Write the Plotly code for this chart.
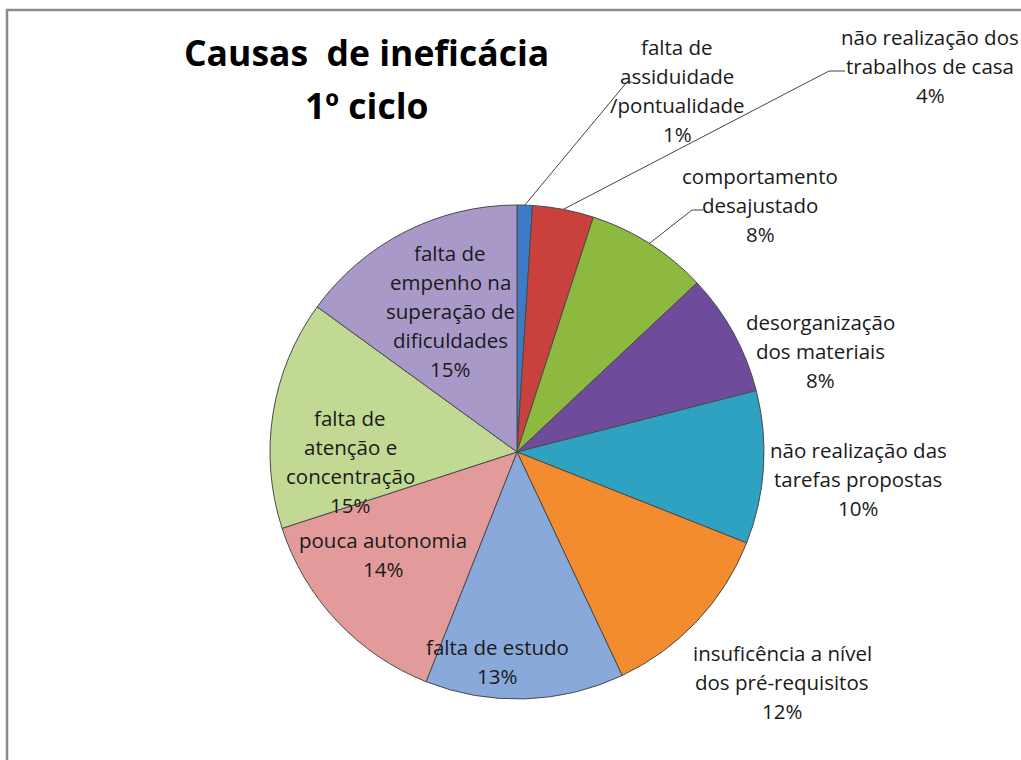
import plotly.graph_objects as go
import math

# ---- data ----
categories = [
    "falta de assiduidade /pontualidade",
    "não realização dos trabalhos de casa",
    "comportamento desajustado",
    "desorganização dos materiais",
    "não realização das tarefas propostas",
    "insuficência a nível dos pré-requisitos",
    "falta de estudo",
    "pouca autonomia",
    "falta de atenção e concentração",
    "falta de empenho na superação de dificuldades",
]
values = [1, 4, 8, 8, 10, 12, 13, 14, 15, 15]
label_lines = [
    ["falta de", "assiduidade", "/pontualidade"],
    ["não realização dos", "trabalhos de casa"],
    ["comportamento", "desajustado"],
    ["desorganização", "dos materiais"],
    ["não realização das", "tarefas propostas"],
    ["insuficência a nível", "dos pré-requisitos"],
    ["falta de estudo"],
    ["pouca autonomia"],
    ["falta de", "atenção e", "concentração"],
    ["falta de", "empenho na", "superação de", "dificuldades"],
]
colors = ["#3B7BC8", "#C9413D", "#8DB940", "#6F4C9B", "#2FA2C2",
          "#F28C2E", "#89A9DA", "#E29B9A", "#C2D993", "#A999C9"]

# ---- layout geometry (pixels) ----
W, H = 1021, 760
CX, CY, R = 517, 452, 247

def px(x):
    return x / W

def py(y):
    return 1 - y / H

# label placement: (center x, first-line y) in pixels
label_pos = [
    (677, 47), (930, 37), (760, 176), (820, 322), (858, 450),
    (782, 653), (497, 647), (383, 540), (350, 418), (450, 253),
]
LINE_H = 29
LABEL_FONT = dict(family="Open Sans, sans-serif", size=20.5, color="#1a1a1a")

fig = go.Figure(go.Pie(
    labels=categories,
    values=values,
    sort=False,
    direction="clockwise",
    rotation=0,
    textinfo="none",
    hoverinfo="label+percent",
    marker=dict(colors=colors, line=dict(color="#4a4a4a", width=1)),
    domain=dict(x=[px(CX - R), px(CX + R)], y=[py(CY + R), py(CY - R)]),
    showlegend=False,
))

annotations = []
total = sum(values)
for lines, v, (lx, ly) in zip(label_lines, values, label_pos):
    all_lines = lines + [f"{round(100 * v / total)}%"]
    for i, t in enumerate(all_lines):
        annotations.append(dict(
            x=px(lx), y=py(ly + i * LINE_H), xref="paper", yref="paper",
            text=t, showarrow=False, xanchor="center", yanchor="middle",
            font=LABEL_FONT,
        ))

# title
TITLE_FONT = dict(family="Open Sans, sans-serif", size=35.5, color="#000")
annotations.append(dict(x=px(366), y=py(52), xref="paper", yref="paper",
                        text="<b>Causas  de ineficácia</b>", showarrow=False,
                        xanchor="center", yanchor="middle", font=TITLE_FONT))
annotations.append(dict(x=px(366), y=py(105), xref="paper", yref="paper",
                        text="<b>1º ciclo</b>", showarrow=False,
                        xanchor="center", yanchor="middle", font=TITLE_FONT))

# leader lines: start at slice edge (computed from data), end near label
cum = 0
mids = []
for v in values:
    mids.append((cum + v / 2) / total * 2 * math.pi)
    cum += v
leader_ends = {0: [(627, 82), (632, 82)], 1: [(829, 71), (845, 71)], 2: [(692, 210), (703, 210)]}
shapes = []
for idx, ends in leader_ends.items():
    a = mids[idx]
    sx, sy = CX + R * math.sin(a), CY - R * math.cos(a)
    pts = [(sx, sy)] + ends
    for (x0, y0), (x1, y1) in zip(pts[:-1], pts[1:]):
        shapes.append(dict(type="line", xref="paper", yref="paper",
                           x0=px(x0), y0=py(y0), x1=px(x1), y1=py(y1),
                           line=dict(color="#444", width=1)))

# chart frame
shapes.append(dict(type="rect", xref="paper", yref="paper",
                   x0=px(7), x1=px(W + 5), y0=py(H + 5), y1=py(10),
                   line=dict(color="#8a8a8a", width=2.5), layer="below"))

fig.update_layout(
    width=W, height=H,
    margin=dict(l=0, r=0, t=0, b=0),
    paper_bgcolor="white", plot_bgcolor="white",
    annotations=annotations, shapes=shapes,
)
fig.write_html("out.html", config={"displayModeBar": False},
               post_script="document.body.style.margin='0';")
